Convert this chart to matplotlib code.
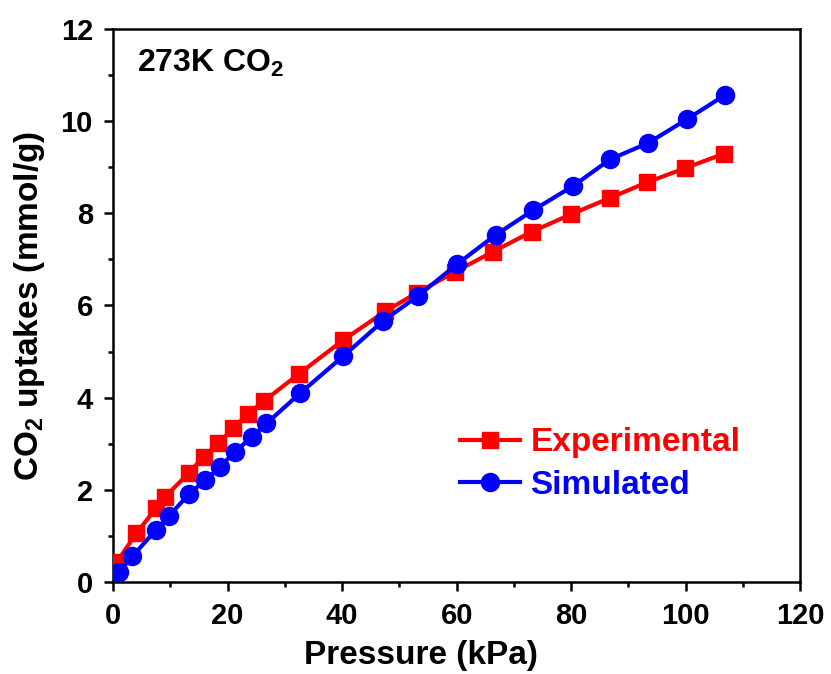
import matplotlib
matplotlib.use('Agg')
import matplotlib.pyplot as plt
from matplotlib.ticker import MultipleLocator

plt.rcParams['font.family'] = ['Liberation Sans', 'DejaVu Sans']
plt.rcParams['font.weight'] = 'bold'
plt.rcParams['mathtext.fontset'] = 'custom'
plt.rcParams['mathtext.rm'] = 'Liberation Sans:bold'
plt.rcParams['mathtext.default'] = 'rm'

# experimental isotherm, 273 K
exp_p = [0.7, 4.1, 7.5, 9.1, 13.2, 15.8, 18.4, 21.0, 23.6, 26.4, 32.4, 40.2,
         47.5, 53.0, 59.7, 66.4, 73.1, 80.0, 86.7, 93.2, 99.9, 106.6]
exp_q = [0.44, 1.06, 1.60, 1.85, 2.36, 2.72, 3.01, 3.34, 3.65, 3.93, 4.51, 5.25,
         5.87, 6.27, 6.73, 7.17, 7.60, 7.98, 8.33, 8.67, 8.98, 9.29]

# simulated isotherm
sim_p = [1.1, 3.4, 7.5, 9.8, 13.3, 16.1, 18.7, 21.3, 24.2, 26.8, 32.7, 40.2,
         47.2, 53.3, 60.0, 66.8, 73.4, 80.3, 86.8, 93.5, 100.2, 106.9]
sim_q = [0.22, 0.56, 1.13, 1.44, 1.91, 2.21, 2.50, 2.83, 3.14, 3.44, 4.10, 4.90,
         5.67, 6.21, 6.89, 7.53, 8.07, 8.59, 9.17, 9.53, 10.04, 10.57]

fig = plt.figure(figsize=(8.31, 6.74), dpi=100)
ax = fig.add_axes((0.136, 0.1365, 0.827, 0.8205))

ax.plot(exp_p, exp_q, color='red', marker='s', markersize=11, linewidth=3,
        label='Experimental', zorder=3)
ax.plot(sim_p, sim_q, color='blue', marker='o', markersize=13, linewidth=3,
        label='Simulated', zorder=4)

ax.set_xlim(0, 120)
ax.set_ylim(0, 12)
ax.xaxis.set_major_locator(MultipleLocator(20))
ax.xaxis.set_minor_locator(MultipleLocator(10))
ax.yaxis.set_major_locator(MultipleLocator(2))
ax.yaxis.set_minor_locator(MultipleLocator(1))

for s in ax.spines.values():
    s.set_linewidth(1.8)
ax.tick_params(which='major', direction='out', length=6.5, width=1.8, labelsize=21, pad=8)
ax.tick_params(which='minor', direction='out', length=3.5, width=1.8)

ax.set_xlabel('Pressure (kPa)', fontsize=24, fontweight='bold')
ax.xaxis.set_label_coords(0.448, -0.105)
ax.set_ylabel('CO$_2$ uptakes (mmol/g)', fontsize=24, fontweight='bold', labelpad=10)

ax.text(0.035, 0.965, '273K CO$_2$', transform=ax.transAxes,
        fontsize=23, fontweight='bold', va='top', ha='left')

leg = ax.legend(loc='center left', bbox_to_anchor=(0.486, 0.213), frameon=False,
                borderaxespad=0, fontsize=24, handlelength=1.8, handletextpad=0.3,
                labelspacing=0.35)
for txt, line in zip(leg.get_texts(), leg.get_lines()):
    txt.set_color(line.get_color())
    txt.set_fontweight('bold')

fig.savefig('out.png', dpi=100)
